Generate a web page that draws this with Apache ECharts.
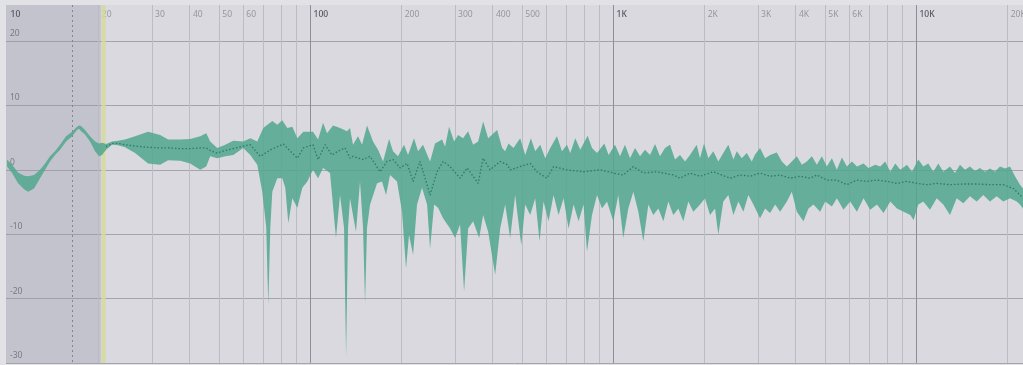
<!DOCTYPE html>
<html>
<head>
<meta charset="utf-8">
<title>Frequency response</title>
<script src="https://cdn.jsdelivr.net/npm/echarts@6/dist/echarts.min.js"></script>
<style>
  html, body { margin: 0; padding: 0; background: #e1e1e6; }
  #chart { width: 1023px; height: 365px; }
</style>
</head>
<body>
<div id="chart"></div>
<script>
// upper edge of the response band  [Hz, dB]
const upperEdge = [
  [10.0, 1.6], [10.39, 0.8], [10.87, -0.4], [11.38, -0.9], [11.73, -1.0], [12.28, -0.8], [12.85, 0.0],
  [13.35, 1.0], [13.86, 2.1], [14.40, 2.9], [14.96, 3.9], [15.66, 5.2], [16.39, 5.9], [17.02, 6.7],
  [17.28, 6.9], [17.55, 6.8], [18.09, 6.2], [18.79, 5.2], [19.52, 4.4], [20.12, 4.1], [20.59, 4.2],
  [21.22, 4.0], [22.21, 4.4], [23.25, 4.5], [24.51, 4.7], [26.46, 5.2], [29.21, 5.9], [32.00, 5.4],
  [34.02, 4.7], [37.27, 4.7], [40.22, 4.8], [43.40, 5.2], [45.43, 5.7], [46.83, 4.4], [49.39, 3.4],
  [52.50, 3.9], [55.79, 4.5], [60.21, 4.4], [63.49, 4.9], [66.97, 4.4], [70.09, 6.5], [75.06, 7.6],
  [77.97, 7.0], [80.99, 7.7], [84.14, 6.5], [87.40, 6.7], [90.79, 4.9], [95.02, 5.9], [102.3, 5.9],
  [106.3, 4.7], [110.4, 7.3], [113.8, 5.7], [119.1, 6.9], [125.6, 6.5], [132.5, 6.0], [135.5, 6.5],
  [138.6, 3.9], [144.0, 5.2], [148.5, 3.9], [154.2, 6.9], [161.4, 4.4], [167.7, 3.1], [174.2, 1.3],
  [182.3, 4.8], [187.9, 2.9], [195.2, 2.1], [204.3, 3.9], [210.6, 2.3], [220.4, 4.9], [227.2, 2.9],
  [236.0, 3.9], [249.0, 1.3], [258.6, 4.1], [272.8, 4.7], [279.1, 3.6], [287.7, 6.7], [298.8, 4.4],
  [308.1, 5.4], [320.0, 4.9], [332.5, 6.0], [345.4, 3.9], [358.8, 4.4], [372.7, 7.5], [387.2, 4.9],
  [414.5, 6.2], [430.7, 3.4], [440.6, 2.9], [451.8, 4.1], [469.3, 3.4], [493.9, 4.9], [513.0, 2.3],
  [535.8, 4.9], [553.6, 2.9], [575.1, 3.9], [597.4, 1.8], [620.6, 3.4], [653.0, 5.2], [678.4, 2.9],
  [704.7, 3.9], [722.6, 2.6], [750.6, 4.9], [779.7, 3.1], [824.4, 5.3], [852.3, 3.4], [885.4, 2.6],
  [935.9, 4.1], [967.1, 2.3], [1015, 3.9], [1055, 2.1], [1095, 3.9], [1138, 1.8], [1182, 3.4],
  [1228, 2.1], [1275, 3.1], [1325, 2.3], [1376, 4.0], [1429, 2.1], [1485, 3.4], [1542, 3.9],
  [1602, 1.6], [1664, 2.3], [1728, 1.3], [1795, 2.3], [1888, 3.9], [1937, 1.8], [1997, 4.1],
  [2063, 1.8], [2143, 2.9], [2226, 1.3], [2312, 2.6], [2402, 3.9], [2496, 1.6], [2561, 2.9],
  [2660, 1.8], [2763, 2.6], [2870, 1.3], [2943, 2.4], [3057, 3.4], [3176, 1.8], [3300, 2.3],
  [3472, 2.7], [3607, 1.3], [3747, 0.5], [3892, 1.3], [4043, 2.1], [4200, 0.8], [4362, 1.3],
  [4532, 2.1], [4707, 0.8], [4890, 2.1], [5079, 0.5], [5277, 1.8], [5481, 0.0], [5694, 1.9],
  [5914, 0.5], [6145, 1.3], [6382, 0.5], [6712, 1.0], [6972, 0.3], [7337, 0.8], [7621, 0.5],
  [7916, 1.3], [8224, -0.3], [8543, 1.0], [8874, 0.0], [9337, 0.8], [9700, -0.3], [10176, 1.6],
  [10570, 0.5], [10980, 1.0], [11404, -0.3], [11847, 1.0], [12305, -0.3], [12948, 0.5], [13449, -0.5],
  [13969, 0.8], [14511, 0.0], [15072, 0.5], [15657, -0.2], [16263, 0.3], [16893, -0.3], [17547, 0.2],
  [18228, -0.3], [18933, 0.5], [19666, 0.2], [20430, 0.5], [21219, -1.0], [22041, -2.3], [22549, -2.9]
]

// lower edge of the response band  [Hz, dB]
const lowerEdge = [
  [10.0, 0.5], [10.39, -0.5], [10.87, -2.1], [11.38, -3.0], [11.73, -3.4], [12.28, -2.9], [12.85, -1.3],
  [13.35, 0.0], [13.86, 1.3], [14.40, 2.3], [14.96, 3.1], [15.66, 4.4], [16.39, 5.2], [17.02, 6.2],
  [17.28, 6.4], [17.55, 6.0], [18.09, 5.5], [18.79, 4.4], [19.52, 2.9], [20.12, 2.1], [20.59, 2.3],
  [21.22, 3.1], [22.21, 3.9], [23.25, 3.8], [24.51, 3.5], [26.46, 2.6], [29.21, 1.0], [32.00, 0.8],
  [34.02, 1.5], [37.27, 1.4], [40.22, 1.0], [43.40, 0.0], [45.43, 0.5], [46.83, 2.1], [49.39, 1.8],
  [52.50, 2.1], [55.79, 2.3], [60.21, 3.4], [63.49, 2.3], [66.97, 0.8], [69.56, -3.4], [71.70, -9.0],
  [72.81, -21.0], [73.93, -9.0], [75.06, -3.4], [77.97, -1.3], [80.99, -1.3], [82.87, -2.8], [84.78, -8.3],
  [87.40, -4.4], [90.79, -5.9], [94.30, -2.8], [97.97, -1.8], [102.3, 0.0], [106.3, -1.3], [110.4, 0.3],
  [116.4, -0.5], [121.8, -10.6], [125.6, -3.9], [129.5, -9.0], [131.5, -29.0], [133.5, -9.0], [135.5, -4.4],
  [141.8, -9.6], [146.2, -1.8], [149.6, -9.0], [151.9, -20.7], [154.2, -9.0], [157.8, -5.4], [166.4, -2.1],
  [172.8, -1.8], [178.2, -3.9], [183.7, -0.8], [193.7, -1.8], [201.2, -6.5], [207.4, -15.3], [212.2, -10.1],
  [218.8, -13.2], [225.5, -5.4], [234.2, -2.8], [243.4, -5.4], [249.0, -12.2], [256.7, -5.4], [264.6, -5.9],
  [274.9, -7.5], [289.9, -9.1], [301.1, -10.6], [312.8, -8.5], [322.4, -18.9], [332.5, -9.1], [345.4, -8.0],
  [361.6, -10.6], [372.7, -7.0], [387.2, -9.6], [408.3, -16.3], [424.2, -9.1], [440.6, -5.4], [457.7, -10.6],
  [475.4, -3.9], [497.9, -11.7], [513.0, -5.4], [533.0, -7.0], [553.6, -4.4], [572.1, -11.1], [589.7, -4.9],
  [612.6, -8.0], [636.4, -3.9], [661.1, -7.0], [686.7, -4.4], [713.3, -9.1], [741.0, -5.4], [769.7, -8.0],
  [799.5, -5.4], [820.6, -12.7], [852.3, -7.0], [885.4, -3.9], [919.7, -6.0], [955.4, -4.9], [1002, -8.0],
  [1041, -3.9], [1081, -10.6], [1123, -6.0], [1167, -3.4], [1212, -6.5], [1259, -11.1], [1308, -5.4],
  [1358, -7.0], [1411, -6.0], [1466, -8.0], [1522, -4.9], [1581, -7.0], [1643, -6.0], [1706, -8.0],
  [1772, -4.9], [1841, -6.5], [1937, -5.4], [2012, -4.4], [2090, -7.0], [2171, -6.0], [2226, -10.1],
  [2312, -4.9], [2402, -3.9], [2496, -7.0], [2592, -4.9], [2693, -6.5], [2797, -3.9], [2906, -5.4],
  [3057, -7.5], [3176, -6.0], [3300, -6.7], [3428, -5.4], [3561, -6.5], [3747, -4.9], [3892, -3.4],
  [4043, -6.5], [4252, -8.0], [4416, -6.0], [4588, -5.4], [4827, -6.5], [5015, -4.9], [5277, -5.7],
  [5481, -4.4], [5764, -6.2], [6064, -4.9], [6382, -6.5], [6712, -4.4], [7062, -6.2], [7431, -5.4],
  [7815, -6.7], [8224, -4.9], [8653, -6.0], [9100, -6.5], [9576, -7.0], [9820, -7.8], [10176, -5.4],
  [10570, -4.9], [11122, -6.2], [11704, -4.4], [12305, -5.4], [12948, -7.0], [13624, -4.4], [14325, -5.2],
  [15072, -4.1], [15861, -4.9], [16676, -3.9], [17547, -4.9], [18464, -4.1], [19414, -4.9], [20430, -4.4],
  [21495, -4.9], [22041, -5.4], [22549, -6.0]
]

// dotted median curve  [Hz, dB]
const medianLine = [
  [21.22, 3.6], [22.21, 4.1], [23.25, 4.1], [24.51, 3.9], [26.46, 3.7], [29.21, 3.5], [32.00, 3.4],
  [34.02, 3.4], [37.27, 3.3], [40.22, 3.3], [43.40, 3.4], [45.43, 3.4], [46.83, 3.0], [49.39, 2.6],
  [52.50, 3.0], [55.79, 3.3], [60.21, 3.7], [63.49, 3.9], [68.52, 2.1], [73.93, 3.1], [81.60, 4.0],
  [90.79, 1.8], [95.02, 3.4], [102.3, 3.9], [106.3, 1.6], [112.1, 3.9], [118.2, 2.3], [123.7, 2.9],
  [130.5, 3.4], [135.5, 1.8], [138.6, 2.1], [149.6, 1.6], [157.8, 2.1], [170.2, -0.3], [179.5, 1.3],
  [187.9, 1.6], [198.2, 0.3], [209.0, 1.0], [218.8, -1.8], [230.7, 1.3], [249.0, -3.9], [262.6, -0.3],
  [274.9, 1.3], [289.9, 0.5], [312.8, -1.3], [330.0, 0.3], [358.8, -2.1], [372.7, 1.8], [393.1, 0.0],
  [424.2, 1.3], [447.3, 0.8], [457.7, 0.0], [493.9, 0.5], [533.0, 1.0], [560.8, -0.3], [605.1, -1.3],
  [636.4, 0.5], [704.7, 0.0], [799.5, -0.3], [907.9, 0.0], [1002, -0.5], [1081, -0.8], [1167, 0.5],
  [1259, -0.5], [1394, -0.3], [1581, -0.8], [1664, -1.3], [1795, -0.5], [1937, -1.0], [2143, -0.3],
  [2434, -1.3], [2626, -0.8], [2833, -1.0], [3057, -0.5], [3300, -1.0], [3561, -0.8], [3842, -1.3],
  [4145, -1.0], [4473, -1.3], [4707, -0.8], [5079, -1.6], [5481, -1.6], [5914, -2.3], [6382, -1.6],
  [6887, -1.8], [7431, -1.6], [8018, -1.8], [8653, -2.1], [9337, -1.8], [10053, -2.1], [10847, -2.3],
  [11704, -2.1], [12948, -2.3], [14325, -2.2], [15861, -2.2], [17547, -2.3], [19414, -2.3], [20947, -2.9],
  [22041, -3.9], [22549, -4.4]
]

// frequency grid
const gridMinorHz = [20, 30, 40, 50, 60, 70, 80, 90, 200, 300, 400, 500, 600, 700, 800, 900,
  2000, 3000, 4000, 5000, 6000, 7000, 8000, 9000, 20000]
const gridDecadeHz = [100, 1000, 10000]
const tickHz = [10, 20, 30, 40, 50, 60, 100, 200, 300, 400, 500, 1000, 2000, 3000, 4000, 5000, 6000, 10000, 20000]
const tickLabels = ['10', '20', '30', '40', '50', '60', '100', '200', '300', '400', '500',
  '1K', '2K', '3K', '4K', '5K', '6K', '10K', '20K']

const markerHz = 16.4 // dotted marker line
const lowCutHz = 20.4 // end of shaded band
const cursorHz = 20.8 // yellow line

const FONT = '"Noto Sans", "DejaVu Sans", sans-serif'

const chart = echarts.init(document.getElementById('chart'), null, { renderer: 'canvas' })

// vertical line through the whole plot at frequency hz
function vLine(params, api, hz, style) {
  const cs = params.coordSys
  const x = Math.round(api.coord([hz, 0])[0]) + 0.5
  return {
    type: 'line',
    shape: { x1: x, y1: cs.y, x2: x, y2: cs.y + cs.height },
    style: style
  }
}

const option = {
  animation: false,
  backgroundColor: '#e1e1e6',
  grid: {
    left: 6,
    right: 0,
    top: 5,
    bottom: 2,
    show: true,
    backgroundColor: '#d9d9df',
    borderWidth: 0
  },
  xAxis: {
    type: 'log',
    logBase: 10,
    min: 9.92,
    max: 22550,
    axisLine: { show: false },
    axisTick: { show: false },
    axisLabel: { show: false },
    splitLine: { show: false }
  },
  yAxis: {
    type: 'value',
    min: -30,
    max: 25.6,
    interval: 10,
    axisLine: { show: false },
    axisTick: { show: false },
    axisLabel: {
      inside: true,
      margin: 4,
      color: '#6c6c74',
      fontSize: 8.5,
      fontFamily: FONT,
      verticalAlign: 'bottom',
      padding: [0, 0, 3, 0],
      showMaxLabel: false
    },
    splitLine: {
      show: true,
      showMaxLine: false,
      lineStyle: { color: '#a4a4ac', width: 1 }
    }
  },
  series: [
    // shaded low-frequency region
    {
      type: 'custom',
      z: 1,
      silent: true,
      data: [[lowCutHz, 0]],
      renderItem: (params, api) => {
        const cs = params.coordSys
        const x = api.coord([lowCutHz, 0])[0]
        return {
          type: 'rect',
          shape: { x: cs.x, y: cs.y, width: x - cs.x, height: cs.height },
          style: { fill: 'rgba(150,150,168,0.32)' }
        }
      }
    },
    // vertical grid lines
    {
      type: 'custom',
      z: 2,
      silent: true,
      data: gridMinorHz.concat(gridDecadeHz).map((f) => [f, 0]),
      renderItem: (params, api) => {
        const hz = api.value(0)
        const decade = gridDecadeHz.indexOf(hz) >= 0
        return vLine(params, api, hz, {
          stroke: decade ? '#8e8e98' : '#bcbcc4',
          lineWidth: 1
        })
      }
    },
    // frequency labels along the top
    {
      type: 'custom',
      z: 3,
      silent: true,
      data: tickHz.map((f) => [f, 0]),
      renderItem: (params, api) => {
        const cs = params.coordSys
        const hz = api.value(0)
        const major = hz === 10 || gridDecadeHz.indexOf(hz) >= 0
        const x = api.coord([hz, 0])[0]
        return {
          type: 'text',
          x: x + 3.5,
          y: cs.y + 10,
          style: {
            text: tickLabels[params.dataIndex],
            fill: major ? '#55555e' : '#96969e',
            font: (major ? '500 ' : '') + '8.5px ' + FONT,
            align: 'left',
            verticalAlign: 'middle'
          }
        }
      }
    },
    // dotted marker + yellow cursor
    {
      type: 'custom',
      z: 4,
      silent: true,
      data: [[markerHz, 0], [cursorHz, 0]],
      renderItem: (params, api) => {
        if (params.dataIndex === 0) {
          return vLine(params, api, markerHz, {
            stroke: '#84848e',
            lineWidth: 1,
            lineDash: [2, 3]
          })
        }
        return vLine(params, api, cursorHz, {
          stroke: 'rgba(214,217,156,0.9)',
          lineWidth: 4
        })
      }
    },
    // response band (upper edge forward, lower edge back)
    {
      type: 'custom',
      name: 'band',
      z: 5,
      silent: true,
      data: [[1000, 0]],
      renderItem: (params, api) => {
        const pts = []
        upperEdge.forEach((p) => pts.push(api.coord(p)))
        for (let i = lowerEdge.length - 1; i >= 0; i--) {
          pts.push(api.coord(lowerEdge[i]))
        }
        return {
          type: 'polygon',
          shape: { points: pts },
          style: { fill: 'rgba(80,166,142,0.86)' }
        }
      }
    },
    // median curve
    {
      type: 'line',
      name: 'median',
      z: 6,
      silent: true,
      symbol: 'none',
      data: medianLine,
      lineStyle: { color: '#2c7a67', width: 1.3, type: [1.5, 2] }
    }
  ]
}

chart.setOption(option)
</script>
</body>
</html>
